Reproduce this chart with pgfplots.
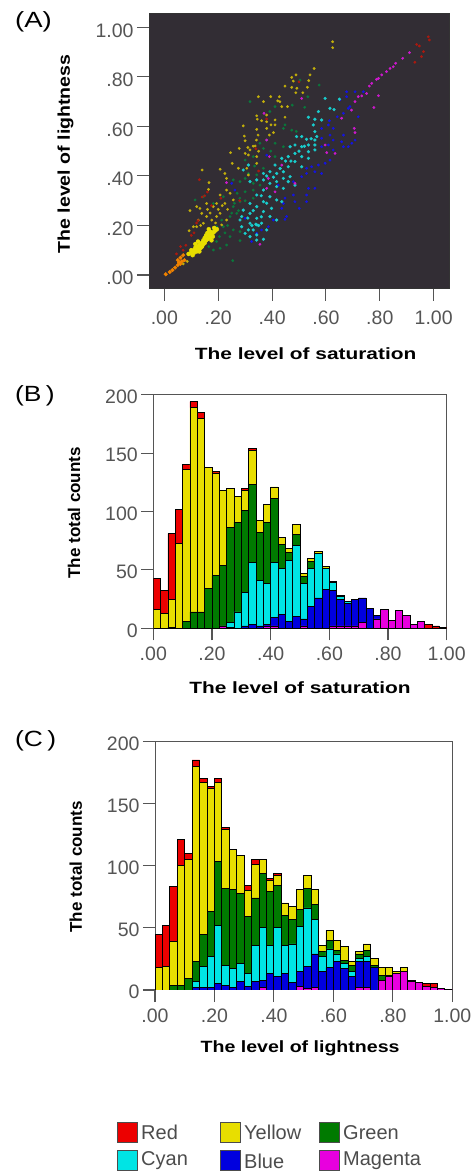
\documentclass[border=0pt]{standalone}
\usepackage{graphicx}
\usepackage{fontspec}
\setmainfont{Liberation Sans}
\usepackage{pgfplots}
\usepackage{pgfplotstable}
\pgfplotsset{compat=1.18}
\definecolor{cR}{RGB}{236,0,0}
\definecolor{cY}{RGB}{232,222,0}
\definecolor{cG}{RGB}{0,122,0}
\definecolor{cC}{RGB}{0,228,228}
\definecolor{cB}{RGB}{0,0,222}
\definecolor{cM}{RGB}{232,0,222}
\definecolor{bgA}{RGB}{50,45,52}
\definecolor{tickc}{RGB}{85,85,85}
\definecolor{dG}{RGB}{10,120,60}
\definecolor{dB}{RGB}{20,20,225}
\definecolor{dC}{RGB}{25,205,205}
\definecolor{dY}{RGB}{195,175,10}
\definecolor{dM}{RGB}{205,25,205}
\definecolor{dR}{RGB}{170,25,15}
\definecolor{dO}{RGB}{240,130,0}
\pgfplotstableread{
x m b c g y r
0.0125 0 0 0 0 16 27
0.0375 0 0 0 0 13 19
0.0625 0 0 0 1 24 56
0.0875 0 0 0 0 73 29
0.1125 0 0 0 6 130 4
0.1375 0 0 0 14 175 5
0.1625 0 0 0 14 166 5
0.1875 0 0 0 34 104 0
0.2125 0 0 0 45 88 1
0.2375 2 0 0 52 64 0
0.2625 0 1 4 81 34 0
0.2875 0 0 14 77 22 0
0.3125 0 2 29 70 17 2
0.3375 0 3 53 67 29 2
0.3625 0 2 39 41 10 0
0.3875 2 1 35 53 15 0
0.4125 2 7 47 55 10 0
0.4375 0 12 39 21 6 0
0.4625 0 6 52 7 3 0
0.4875 0 10 61 9 9 0
0.5125 2 6 30 6 3 0
0.5375 0 19 32 6 3 0
0.5625 0 26 38 0 2 0
0.5875 0 33 18 0 2 0
0.6125 2 30 7 1 0 0
0.6375 2 23 2 1 0 0
0.6625 2 19 2 0 0 0
0.6875 2 23 0 0 0 0
0.7125 5 21 0 0 0 0
0.7375 0 17 0 0 0 0
0.7625 8 3 0 0 0 0
0.7875 16 0 0 0 0 0
0.8125 7 0 0 0 0 0
0.8375 15 0 0 0 0 0
0.8625 11 0 0 0 0 0
0.8875 3 0 0 0 0 0
0.9125 6 0 0 0 0 0
0.9375 0 0 0 0 0 3
0.9625 0 0 0 0 0 2
0.9875 0 0 0 0 0 1
}\tabB
\pgfplotstableread{
x m b c g y r
0.0125 0 0 0 0 18 27
0.0375 0 0 0 0 19 33
0.0625 0 0 0 4 35 44
0.0875 0 0 0 4 96 21
0.1125 0 0 0 9 96 5
0.1375 0 2 5 16 157 5
0.1625 0 2 17 26 122 3
0.1875 0 2 25 36 99 2
0.2125 0 5 47 51 64 3
0.2375 0 4 16 62 47 2
0.2625 0 2 15 64 32 0
0.2875 0 7 14 57 30 0
0.3125 0 3 10 46 21 4
0.3375 0 7 29 38 27 4
0.3625 2 6 42 44 11 0
0.3875 0 13 23 43 9 2
0.4125 0 11 39 34 8 2
0.4375 0 13 23 24 10 0
0.4625 0 6 31 20 10 0
0.4875 3 12 36 14 16 0
0.5125 1 18 47 16 10 0
0.5375 2 27 28 12 12 0
0.5625 0 15 12 4 5 0
0.5875 0 18 15 7 8 0
0.6125 0 23 6 3 8 0
0.6375 0 17 4 3 11 0
0.6625 0 11 4 5 3 0
0.6875 2 21 2 4 2 0
0.7125 2 21 4 5 5 0
0.7375 0 18 0 2 5 0
0.7625 8 0 0 4 6 0
0.7875 11 0 0 1 6 0
0.8125 13 0 0 0 2 0
0.8375 15 0 0 0 3 0
0.8625 7 0 0 0 1 0
0.8875 6 0 0 0 0 0
0.9125 3 0 0 0 0 2
0.9375 2 0 0 0 0 3
0.9625 1 0 0 0 0 0
0.9875 0.5 0 0 0 0 0
}\tabC
\tikzset{
 tl/.style={font=\fontsize{19.5}{20}\selectfont, text=tickc},
 xl/.style={font=\fontsize{16.3}{18}\bfseries\selectfont, text=black},
 yl/.style={font=\fontsize{17}{18}\bfseries\selectfont, text=black},
}
\pgfplotsset{
 common/.style={
  scale only axis,
  tick align=outside,
  tick pos=left,
  major tick length=12pt,
  tick style={draw=tickc, line width=1.1pt},
  xtick={0,0.2,0.4,0.6,0.8,1},
  xticklabels={.00,.20,.40,.60,.80,1.00},
  ticklabel style={tl},
  /pgf/number format/assume math mode=true,
  clip=true,
 },
 hist/.style={
  common,
  ybar stacked,
  bar width=0.025,
  xmin=0, xmax=1, ymin=0, ymax=200,
  ytick={0,50,100,150,200},
  yticklabels={0,50,100,150,200},
  xticklabel style={yshift=-3pt},
  yticklabel style={yshift=-2pt},
  axis line style={draw=tickc, line width=1pt},
  every axis plot/.append style={draw=black, line width=0.85pt, bar shift=0pt},
 },
}
\begin{document}
\begin{tikzpicture}[x=1pt,y=1pt]
\path[use as bounding box] (0,0) rectangle (473,1175);

\node[font=\fontsize{22}{24}\selectfont, anchor=west, inner sep=0pt] at (15,1153) {\scalebox{1.25}[1]{(A)}};
\node[font=\fontsize{22}{24}\selectfont, anchor=west, inner sep=0pt] at (15,779) {\scalebox{1.2}[1]{(B\,)}};
\node[font=\fontsize{22}{24}\selectfont, anchor=west, inner sep=0pt] at (15,434) {\scalebox{1.2}[1]{(C\,)}};

% Panel A
\begin{axis}[common, at={(149pt,886pt)}, anchor=south west, width=300pt, height=275pt,
 xmin=-0.057, xmax=1.057, ymin=-0.0565, ymax=1.054,
 ytick={0,0.2,0.4,0.6,0.8,1}, yticklabels={.00,.20,.40,.60,.80,1.00},
 xticklabel style={yshift=-6pt},
 yticklabel style={yshift=-3pt},
 axis background/.style={fill=bgA},
 axis line style={draw=black!80, line width=1pt},
 xlabel={\scalebox{1.28}[1]{The level of saturation}},
 ylabel={\scalebox{1.15}[1]{The level of lightness}},
 xlabel style={xl, at={(axis description cs:0.522,-0.236)}, anchor=center},
 ylabel style={yl, at={(axis description cs:-0.278,0.491)}, anchor=center},
]
\addplot[only marks, mark=*, color=dG, mark size=1.2pt] coordinates {
(.318,.7)(.411,.68)(.392,.66)(.475,.686)(.521,.677)(.533,.72)(.575,.767)(.504,.787)(.448,.606)(.473,.585)(.442,.592)(.38,.545)(.411,.532)(.355,.532)(.368,.511)(.442,.518)(.411,.478)(.33,.478)(.3,.464)(.256,.384)(.281,.377)(.312,.41)(.343,.404)(.368,.431)(.33,.343)(.355,.363)(.3,.336)(.33,.31)(.281,.296)(.256,.276)(.269,.249)(.244,.236)(.213,.222)(.194,.195)(.219,.195)(.256,.182)(.281,.175)(.244,.155)(.281,.139)(.231,.121)(.194,.135)(.182,.101)(.207,.108)(.254,.058)(.145,.316)(.114,.303)(.182,.289)(.219,.316)(.26,.29)(.275,.26)(.25,.25)(.28,.31)(.3,.3)(.235,.2)(.225,.17)(.205,.155)(.165,.115)(.3,.39)(.335,.44)(.395,.5)(.49,.58)(.33,.37)(.27,.33)
};
\addplot[only marks, mark=*, color=dB, mark size=1.2pt] coordinates {
(.677,.74)(.652,.707)(.677,.72)(.708,.74)(.739,.74)(.689,.68)(.683,.673)(.665,.653)(.642,.639)(.613,.623)(.609,.606)(.72,.639)(.627,.592)(.584,.592)(.665,.565)(.615,.565)(.627,.545)(.584,.552)(.708,.545)(.696,.532)(.658,.538)(.665,.518)(.683,.518)(.609,.525)(.627,.505)(.584,.518)(.615,.464)(.597,.451)(.572,.444)(.547,.437)(.528,.431)(.559,.417)(.584,.41)(.528,.41)(.51,.397)(.479,.377)(.535,.35)(.559,.35)(.528,.323)(.479,.323)(.448,.31)(.485,.296)(.528,.296)(.501,.269)(.442,.289)(.436,.269)(.454,.236)(.448,.225)(.405,.222)(.386,.195)(.361,.182)(.343,.168)(.324,.135)(.3,.229)(.25,.37)(.262,.343)(.38,.484)(.423,.363)
};
\addplot[only marks, mark=*, color=dC, mark size=1.4pt] coordinates {
(.65,.71)(.615,.673)(.63,.668)(.597,.713)(.572,.66)(.535,.637)(.559,.629)(.584,.626)(.553,.606)(.51,.559)(.491,.559)(.559,.579)(.566,.559)(.528,.548)(.559,.545)(.535,.525)(.559,.525)(.51,.518)(.485,.525)(.467,.518)(.535,.498)(.559,.505)(.485,.491)(.51,.478)(.46,.478)(.485,.458)(.535,.471)(.51,.437)(.46,.437)(.436,.471)(.411,.444)(.442,.417)(.417,.41)(.467,.397)(.392,.417)(.368,.41)(.442,.39)(.485,.363)(.417,.377)(.46,.377)(.392,.37)(.442,.35)(.417,.357)(.368,.384)(.343,.384)(.312,.444)(.293,.424)(.318,.377)(.368,.343)(.392,.316)(.343,.323)(.417,.303)(.368,.296)(.318,.289)(.343,.276)(.398,.269)(.436,.296)(.368,.256)(.318,.249)(.392,.236)(.343,.229)(.293,.262)(.281,.222)(.318,.209)(.344,.202)(.361,.209)(.417,.222)(.312,.182)(.33,.182)(.287,.195)(.38,.182)(.343,.162)(.3,.168)(.318,.155)(.368,.144)(.343,.141)(.287,.236)(.34,.205)(.35,.2)(.325,.2)(.38,.4)(.405,.395)(.43,.43)(.45,.46)(.47,.46)(.5,.5)(.52,.52)(.545,.55)(.36,.32)(.38,.29)(.33,.26)(.31,.23)(.36,.235)
};
\addplot[only marks, mark=*, color=dY, mark size=1.2pt] coordinates {
(.625,.942)(.625,.918)(.556,.834)(.541,.808)(.489,.808)(.473,.798)(.479,.783)(.536,.785)(.448,.763)(.473,.758)(.492,.754)(.531,.758)(.488,.736)(.514,.736)(.349,.72)(.395,.72)(.427,.72)(.421,.703)(.429,.7)(.368,.7)(.457,.68)(.436,.68)(.343,.643)(.345,.629)(.38,.646)(.361,.623)(.38,.619)(.411,.626)(.448,.637)(.293,.602)(.343,.588)(.396,.606)(.411,.606)(.38,.592)(.405,.575)(.297,.561)(.3,.542)(.348,.565)(.342,.545)(.39,.565)(.33,.52)(.31,.515)(.35,.5)(.14,.424)(.207,.427)(.166,.373)(.164,.346)(.225,.41)(.231,.39)(.246,.494)(.278,.511)(.252,.451)(.3,.491)(.312,.485)(.343,.478)(.318,.505)(.337,.521)(.275,.431)(.306,.431)(.343,.451)(.312,.404)(.231,.343)(.207,.323)(.244,.33)(.256,.303)(.225,.289)(.194,.289)(.157,.289)(.182,.276)(.132,.269)(.095,.26)(.12,.276)(.139,.249)(.157,.236)(.176,.222)(.194,.236)(.126,.222)(.108,.195)(.092,.179)(.145,.209)(.12,.195)(.207,.249)(.231,.222)(.213,.202)(.235,.265)(.17,.25)(.2,.265)(.215,.28)(.16,.265)(.135,.2)(.19,.21)(.07,.045)(.085,.055)
};
\addplot[only marks, mark=*, color=cY, mark size=2pt] coordinates {
(.10,.09)(.105,.095)(.11,.10)(.115,.11)(.12,.105)(.125,.115)(.13,.12)(.135,.125)(.11,.09)(.12,.095)(.13,.105)(.14,.13)(.125,.135)(.135,.11)(.145,.14)(.15,.15)(.155,.16)(.16,.17)(.165,.16)(.17,.15)(.175,.165)(.18,.17)(.185,.175)(.19,.18)(.15,.13)(.16,.145)(.17,.175)(.165,.185)(.18,.155)(.195,.185)(.10,.10)(.115,.125)(.09,.085)(.14,.115)(.175,.14)(.145,.125)(.185,.19)(.155,.14)(.13,.095)(.105,.08)
};
\addplot[only marks, mark=*, color=dM, mark size=1.2pt] coordinates {
(.91,.898)(.885,.875)(.859,.855)(.85,.841)(.838,.834)(.825,.821)(.807,.808)(.795,.794)(.788,.79)(.77,.774)(.761,.763)(.751,.733)(.733,.723)(.72,.72)(.708,.7)(.695,.666)(.795,.724)(.778,.676)(.705,.592)(.708,.575)(.658,.633)(.597,.525)(.634,.491)(.603,.494)(.37,.653)(.51,.713)(.38,.545)(.39,.478)(.436,.444)(.386,.39)(.231,.373)(.38,.35)(.411,.336)(.355,.124)(.485,.37)
};
\addplot[only marks, mark=*, color=dR, mark size=1.2pt] coordinates {
(.98,.962)(.984,.949)(.937,.931)(.947,.925)(.962,.902)(.955,.882)(.93,.859)(.13,.385)(.14,.315)(.15,.32)(.16,.335)(.12,.21)(.125,.22)(.11,.17)(.10,.16)(.08,.12)(.07,.10)(.28,.3)(.21,.31)(.175,.28)(.34,.51)(.38,.63)(.5,.78)(.35,.42)(.06,.115)(.045,.085)
};
\addplot[only marks, mark=*, color=dO, mark size=1.8pt] coordinates {
(.005,.003)(.02,.012)(.04,.03)(.05,.04)(.055,.05)(.06,.045)(.065,.055)(.06,.07)(.05,.06)(.07,.08)(.075,.06)(.03,.02)
};
\end{axis}

% Panel B
\begin{axis}[hist, at={(153.3pt,546.7pt)}, anchor=south west, width=293.4pt, height=233.6pt,
 xlabel={\scalebox{1.28}[1]{The level of saturation}},
 ylabel={The total counts},
 xlabel style={xl, at={(axis description cs:0.5,-0.2555)}, anchor=center},
 ylabel style={yl, at={(axis description cs:-0.27,0.494)}, anchor=center},
]
\addplot[fill=cM] table[x=x,y=m] {\tabB};
\addplot[fill=cB] table[x=x,y=b] {\tabB};
\addplot[fill=cC] table[x=x,y=c] {\tabB};
\addplot[fill=cG] table[x=x,y=g] {\tabB};
\addplot[fill=cY] table[x=x,y=y] {\tabB};
\addplot[fill=cR] table[x=x,y=r] {\tabB};
\end{axis}

% Panel C
\begin{axis}[hist, at={(155pt,185pt)}, anchor=south west, width=297.3pt, height=248.7pt,
 xlabel={\scalebox{1.2}[1]{The level of lightness}},
 ylabel={The total counts},
 xlabel style={xl, at={(axis description cs:0.488,-0.233)}, anchor=center},
 ylabel style={yl, at={(axis description cs:-0.266,0.495)}, anchor=center},
]
\addplot[fill=cM] table[x=x,y=m] {\tabC};
\addplot[fill=cB] table[x=x,y=b] {\tabC};
\addplot[fill=cC] table[x=x,y=c] {\tabC};
\addplot[fill=cG] table[x=x,y=g] {\tabC};
\addplot[fill=cY] table[x=x,y=y] {\tabC};
\addplot[fill=cR] table[x=x,y=r] {\tabC};
\end{axis}

% Legend
\foreach \xx/\yy/\cc/\lab in {117/42.5/cR/Red,220/42.5/cY/Yellow,319/42.5/cG/Green,117/14/cC/Cyan,220/14/cB/Blue,319/14/cM/Magenta}{
 \path[fill=\cc, draw=black!70, line width=1pt] (\xx,\yy-10) rectangle ++(20,20);
 \node[anchor=west, inner sep=0pt, font=\fontsize{20}{22}\selectfont, text=black!70] at (\xx+24,\yy) {\lab};
}
\end{tikzpicture}
\end{document}
